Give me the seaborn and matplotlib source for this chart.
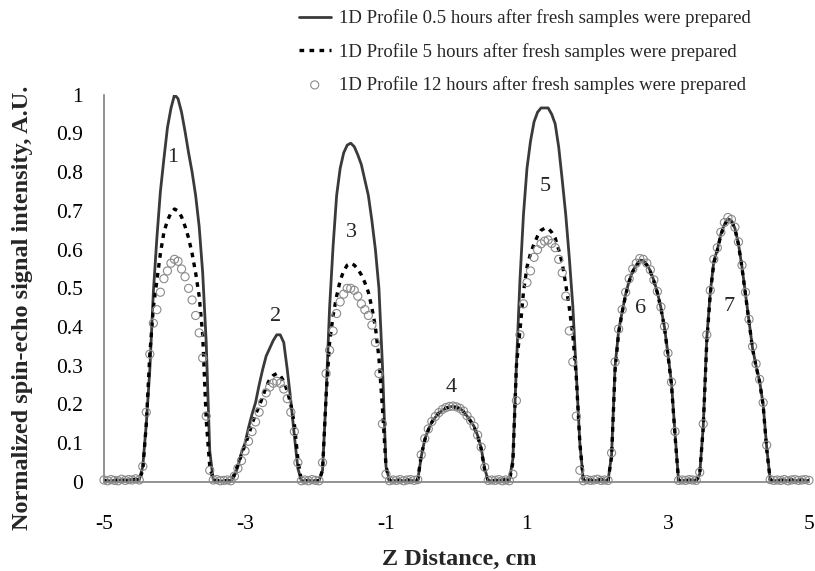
import numpy as np
import pandas as pd
import seaborn as sns
import matplotlib.pyplot as plt

# Perfis 1D (z de -5 a 5 cm, passo 0.05 cm)
perfil_05h = [
    0.003, 0.004, 0.002, 0.005, 0.004, 0.006, 0.003, 0.005, 0.007, 0.006,
    # pico 1
    0.005, 0.04, 0.15, 0.29, 0.49, 0.63, 0.75, 0.835, 0.915, 0.965, 1.0,
    0.99, 0.955, 0.905, 0.85, 0.80, 0.74, 0.66, 0.54, 0.36, 0.08, 0.005,
    0.004, 0.002, 0.003, 0.005,
    # pico 2
    0.003, 0.015, 0.04, 0.075, 0.10, 0.14, 0.175, 0.205, 0.25, 0.29, 0.325,
    0.345, 0.365, 0.38, 0.38, 0.36, 0.29, 0.21, 0.12, 0.035, 0.003,
    0.003, 0.005, 0.002, 0.004,
    # pico 3
    0.003, 0.03, 0.22, 0.45, 0.61, 0.74, 0.81, 0.85, 0.87, 0.875, 0.866,
    0.845, 0.82, 0.78, 0.74, 0.675, 0.60, 0.50, 0.30, 0.04, 0.003,
    0.004, 0.003, 0.005, 0.002, 0.006, 0.004,
    # pico 4
    0.003, 0.004, 0.065, 0.11, 0.135, 0.155, 0.167, 0.177, 0.185, 0.19, 0.194,
    0.195, 0.193, 0.19, 0.182, 0.17, 0.158, 0.143, 0.12, 0.088, 0.035, 0.003,
    0.003, 0.005, 0.004, 0.006, 0.005,
    # pico 5
    0.003, 0.06, 0.30, 0.52, 0.69, 0.81, 0.88, 0.93, 0.955, 0.966, 0.966,
    0.966, 0.95, 0.925, 0.865, 0.78, 0.69, 0.58, 0.455, 0.28, 0.10, 0.003,
    0.004, 0.006, 0.003, 0.005, 0.008, 0.004,
    # pico 6
    0.003, 0.07, 0.30, 0.39, 0.44, 0.485, 0.52, 0.545, 0.56, 0.573, 0.572,
    0.562, 0.545, 0.52, 0.49, 0.45, 0.40, 0.33, 0.255, 0.125, 0.003,
    0.003, 0.005, 0.004, 0.006,
    # pico 7
    0.003, 0.02, 0.143, 0.37, 0.49, 0.57, 0.60, 0.64, 0.665, 0.68, 0.675,
    0.655, 0.615, 0.555, 0.485, 0.415, 0.345, 0.30, 0.26, 0.20, 0.09, 0.005, 0.003,
    0.004, 0.003, 0.006, 0.002, 0.005, 0.004, 0.003, 0.006, 0.004, 0.003,
]

perfil_5h = [
    0.004, 0.003, 0.005, 0.002, 0.006, 0.004, 0.005, 0.003, 0.006, 0.007,
    # pico 1
    0.005, 0.03, 0.15, 0.33, 0.45, 0.52, 0.59, 0.645, 0.675, 0.695, 0.705,
    0.70, 0.685, 0.66, 0.63, 0.59, 0.54, 0.48, 0.38, 0.16, 0.04, 0.005,
    0.003, 0.005, 0.002, 0.004,
    # pico 2
    0.003, 0.02, 0.045, 0.07, 0.095, 0.12, 0.15, 0.175, 0.195, 0.22, 0.245,
    0.265, 0.275, 0.28, 0.275, 0.26, 0.235, 0.20, 0.15, 0.06, 0.003,
    0.004, 0.002, 0.005, 0.003,
    # pico 3
    0.003, 0.03, 0.22, 0.36, 0.43, 0.48, 0.52, 0.545, 0.56, 0.565, 0.56,
    0.55, 0.535, 0.515, 0.49, 0.45, 0.40, 0.32, 0.19, 0.04, 0.003,
    0.003, 0.005, 0.004, 0.003, 0.005, 0.003,
    # pico 4
    0.003, 0.005, 0.068, 0.108, 0.134, 0.154, 0.168, 0.178, 0.186, 0.191, 0.193,
    0.194, 0.192, 0.189, 0.181, 0.169, 0.157, 0.142, 0.118, 0.085, 0.03, 0.003,
    0.004, 0.003, 0.005, 0.004, 0.006,
    # pico 5
    0.003, 0.05, 0.30, 0.39, 0.49, 0.555, 0.59, 0.615, 0.635, 0.65, 0.655,
    0.655, 0.645, 0.63, 0.60, 0.565, 0.51, 0.45, 0.38, 0.27, 0.10, 0.003,
    0.005, 0.004, 0.006, 0.003, 0.006, 0.005,
    # pico 6
    0.003, 0.065, 0.29, 0.385, 0.438, 0.483, 0.518, 0.543, 0.558, 0.57, 0.57,
    0.56, 0.543, 0.518, 0.488, 0.448, 0.398, 0.328, 0.25, 0.12, 0.003,
    0.004, 0.003, 0.005, 0.004,
    # pico 7
    0.003, 0.02, 0.14, 0.36, 0.485, 0.565, 0.598, 0.638, 0.663, 0.678, 0.673,
    0.653, 0.613, 0.553, 0.483, 0.413, 0.343, 0.298, 0.258, 0.198, 0.085, 0.005, 0.003,
    0.003, 0.005, 0.004, 0.003, 0.006, 0.002, 0.004, 0.005, 0.003, 0.004,
]

perfil_12h = [
    0.005, 0.003, 0.006, 0.004, 0.003, 0.007, 0.004, 0.006, 0.005, 0.008,
    # pico 1
    0.005, 0.04, 0.18, 0.33, 0.41, 0.445, 0.49, 0.525, 0.545, 0.565, 0.575,
    0.57, 0.55, 0.53, 0.50, 0.47, 0.43, 0.385, 0.32, 0.17, 0.03, 0.005,
    0.006, 0.003, 0.004, 0.005,
    # pico 2
    0.003, 0.015, 0.035, 0.055, 0.08, 0.105, 0.13, 0.155, 0.18, 0.205, 0.23,
    0.245, 0.255, 0.26, 0.255, 0.24, 0.215, 0.18, 0.13, 0.05, 0.003,
    0.005, 0.003, 0.006, 0.004,
    # pico 3
    0.003, 0.05, 0.28, 0.34, 0.39, 0.435, 0.465, 0.485, 0.50, 0.50, 0.495,
    0.48, 0.46, 0.445, 0.43, 0.405, 0.36, 0.28, 0.15, 0.02, 0.003,
    0.005, 0.004, 0.006, 0.003, 0.005, 0.006,
    # pico 4
    0.004, 0.006, 0.07, 0.112, 0.137, 0.156, 0.169, 0.179, 0.187, 0.192, 0.195,
    0.196, 0.194, 0.19, 0.183, 0.171, 0.159, 0.144, 0.121, 0.09, 0.038, 0.004,
    0.005, 0.004, 0.006, 0.003, 0.005,
    # pico 5
    0.003, 0.02, 0.21, 0.38, 0.46, 0.515, 0.545, 0.58, 0.60, 0.615, 0.622,
    0.625, 0.616, 0.605, 0.575, 0.54, 0.48, 0.39, 0.31, 0.17, 0.03, 0.003,
    0.006, 0.004, 0.005, 0.007, 0.004, 0.005,
    # pico 6
    0.004, 0.075, 0.31, 0.395, 0.445, 0.49, 0.525, 0.55, 0.565, 0.577, 0.575,
    0.565, 0.548, 0.522, 0.492, 0.452, 0.402, 0.333, 0.258, 0.13, 0.004,
    0.005, 0.004, 0.006, 0.005,
    # pico 7
    0.004, 0.025, 0.15, 0.38, 0.495, 0.575, 0.605, 0.645, 0.67, 0.683, 0.678,
    0.658, 0.62, 0.56, 0.49, 0.42, 0.35, 0.305, 0.265, 0.205, 0.095, 0.006, 0.004,
    0.005, 0.004, 0.006, 0.003, 0.005, 0.006, 0.004, 0.005, 0.006, 0.004,
]

rotulos_legenda = [
    '1D Profile 0.5 hours after fresh samples were prepared',
    '1D Profile 5 hours after fresh samples were prepared',
    '1D Profile 12 hours after fresh samples were prepared',
]

# numeros dos picos (rotulo, z, intensidade)
picos_rotulo = ['1', '2', '3', '4', '5', '6', '7']
picos_z = [-4.03, -2.56, -1.49, -0.07, 1.255, 2.617, 3.86]
picos_y = [0.837, 0.427, 0.643, 0.245, 0.762, 0.449, 0.453]

x_ticks = [-5, -3, -1, 1, 3, 5]
y_ticks = [0, 0.1, 0.2, 0.3, 0.4, 0.5, 0.6, 0.7, 0.8, 0.9, 1.0]
y_tick_labels = ['0', '0.1', '0.2', '0.3', '0.4', '0.5', '0.6', '0.7', '0.8', '0.9', '1']

z = np.round(-5 + 0.05 * np.arange(len(perfil_05h)), 2)
dados = pd.DataFrame({'z': z, 'h05': perfil_05h, 'h5': perfil_5h, 'h12': perfil_12h})

sns.set_style('white')
plt.rcParams['font.family'] = ['Liberation Serif', 'DejaVu Serif']

fig = plt.figure(figsize=(8.15, 5.71), dpi=100)
ax = fig.add_axes([0.1276, 0.156, 0.865, 0.678])

sns.lineplot(data=dados, x='z', y='h05', color='#3a3a3a', linewidth=2.0,
             estimator=None, label=rotulos_legenda[0], ax=ax)
sns.lineplot(data=dados, x='z', y='h5', color='black', linewidth=2.4,
             estimator=None, label=rotulos_legenda[1], ax=ax)
ax.lines[-1].set_dashes([1.4, 1.6])
sns.scatterplot(data=dados, x='z', y='h12', marker='o', s=34,
                edgecolor='#8a8a8a', linewidth=0.8, clip_on=False, zorder=4,
                label=rotulos_legenda[2], ax=ax)
ax.collections[-1].set_facecolor('none')

for rot, px, py in zip(picos_rotulo, picos_z, picos_y):
    ax.text(px, py, rot, ha='center', va='center', fontsize=16)

ax.set_xlim(-5, 5)
ax.set_ylim(0, 1)
ax.set_xticks(x_ticks)
ax.set_xticklabels([str(t) for t in x_ticks])
ax.set_yticks(y_ticks)
ax.set_yticklabels(y_tick_labels)
ax.tick_params(axis='both', labelsize=15.5, colors='#808080', labelcolor='black',
               direction='out', length=6, width=1)
ax.tick_params(axis='y', pad=9)
ax.tick_params(axis='x', pad=18)

for lado in ['top', 'right']:
    ax.spines[lado].set_visible(False)
for lado in ['left', 'bottom']:
    ax.spines[lado].set_color('#808080')
    ax.spines[lado].set_linewidth(1.2)

ax.set_xlabel('Z Distance, cm', fontsize=17.5, fontweight='bold')
ax.set_ylabel('Normalized spin-echo signal intensity, A.U.', fontsize=17.5, fontweight='bold')
ax.xaxis.set_label_coords(0.504, -0.172)
ax.yaxis.set_label_coords(-0.1, 0.45)

ax.legend(loc='upper left', bbox_to_anchor=(0.362, 0.99), bbox_transform=fig.transFigure,
          frameon=False, fontsize=13.5, handlelength=1.7, handletextpad=0.45,
          labelspacing=0.82, borderpad=0.2, borderaxespad=0)

plt.savefig('out.png')
